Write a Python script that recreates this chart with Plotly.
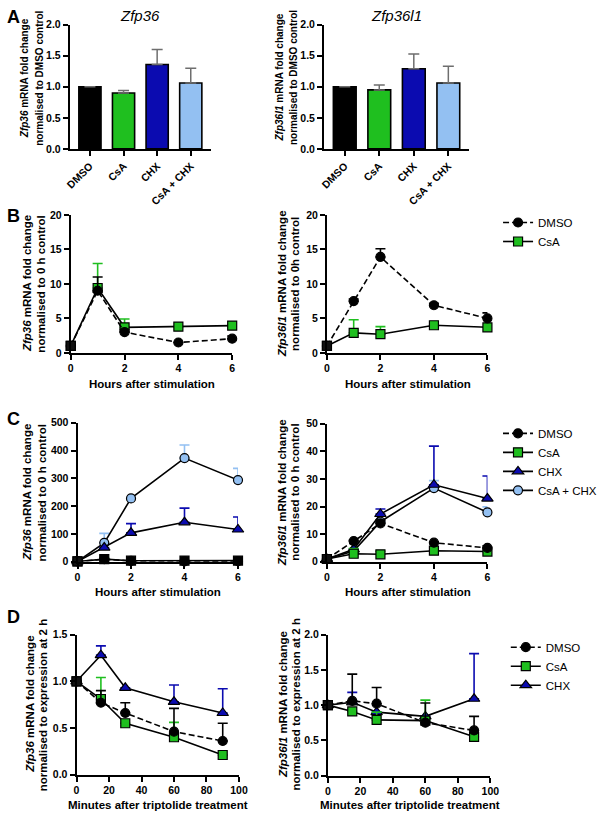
import plotly.graph_objects as go

# ---------------- data ----------------
bar_cats = ["DMSO", "CsA", "CHX", "CsA + CHX"]
a_zfp36 = [1.0, 0.90, 1.36, 1.06]
a_zfp36_err = [0.0, 0.04, 0.24, 0.24]
a_zfp36l1 = [1.0, 0.95, 1.29, 1.06]
a_zfp36l1_err = [0.0, 0.08, 0.24, 0.27]

hours = [0, 1, 2, 4, 6]
b36_dmso = [1.0, 9.0, 3.0, 1.5, 2.05]
b36_dmso_err = [None, 2.0, 0.4, None, 0.4]
b36_csa = [1.0, 9.4, 3.7, 3.8, 3.95]
b36_csa_err = [None, 3.55, 1.2, None, None]

bl1_dmso = [1.0, 7.5, 13.9, 6.9, 5.0]
bl1_dmso_err = [None, 0.3, 1.2, 0.3, 0.8]
bl1_csa = [1.0, 2.9, 2.7, 4.0, 3.7]
bl1_csa_err = [None, 1.9, 1.1, None, None]

c36_chx = [1.0, 51, 104, 142, 116]
c36_chx_err = [None, None, 33, 51, 45]
c36_csachx = [1.0, 68, 228, 373, 294]
c36_csachx_err = [None, 34, None, 47, 42]

cl1_chx = [1.0, 4.5, 17.3, 27.9, 22.9]
cl1_chx_err = [None, None, 1.8, 14.0, 8.2]
cl1_csachx = [1.0, 3.9, 14.5, 26.7, 17.9]
cl1_csachx_err = [None, None, None, 2.7, 2.0]

minutes = [0, 15, 30, 60, 90]
d36_dmso = [1.0, 0.77, 0.66, 0.46, 0.36]
d36_dmso_err = [None, 0.13, 0.11, 0.25, 0.19]
d36_csa = [1.0, 0.81, 0.55, 0.40, 0.21]
d36_csa_err = [None, 0.23, None, 0.16, None]
d36_chx = [1.0, 1.28, 0.93, 0.78, 0.66]
d36_chx_err = [None, 0.10, None, 0.18, 0.26]

dl1_dmso = [1.0, 1.06, 1.02, 0.75, 0.64]
dl1_dmso_err = [None, 0.38, 0.23, 0.28, 0.20]
dl1_csa = [1.0, 0.91, 0.79, 0.78, 0.55]
dl1_csa_err = [None, None, 0.11, 0.29, None]
dl1_chx = [1.0, 1.04, 0.90, 0.84, 1.09]
dl1_chx_err = [None, 0.14, None, None, 0.64]

# ---------------- style ----------------
W, H = 602, 819
FONT = "Liberation Sans, Arial, sans-serif"
BLACK = "#000000"
GREEN = "#1FBF1F"
BLUE = "#0B0BB0"
LBLUE = "#93C0F2"
GREY = "#6E6E6E"

def px_x(a, b):
    return [a / W, b / W]

def px_y(top, bottom):
    return [1 - bottom / H, 1 - top / H]

fig = go.Figure()

def axis_common():
    return dict(showline=True, linecolor="black", linewidth=2, ticks="outside",
                ticklen=5, tickwidth=2, tickcolor="black", showgrid=False,
                zeroline=False, fixedrange=True,
                tickfont=dict(family=FONT, size=10.5, color="black", weight="bold"))

panels = {
    1: ((67, 213), (19, 145)),
    2: ((330, 480), (19, 145)),
    3: ((68, 235), (212, 352)),
    4: ((333, 499), (212, 352)),
    5: ((75, 241), (423, 564)),
    6: ((333, 499), (424, 564)),
    7: ((74, 242), (638, 780)),
    8: ((334, 502), (638, 781)),
}
yranges = {1: (2, 0.5, ".1f"), 2: (2, 0.5, ".1f"), 3: (20, 5, "d"), 4: (20, 5, "d"),
           5: (500, 100, "d"), 6: (50, 10, "d"), 7: (1.5, 0.5, ".1f"), 8: (2, 0.5, ".1f")}

layout_axes = {}
for i, ((x0, x1), (y0, y1)) in panels.items():
    xs = "xaxis" if i == 1 else f"xaxis{i}"
    ys = "yaxis" if i == 1 else f"yaxis{i}"
    xa = axis_common()
    xa.update(domain=px_x(x0, x1), anchor="y" if i == 1 else f"y{i}")
    if i in (1, 2):
        xa.update(type="category", range=[-0.6, 3.6], tickangle=-45)
    elif i in (3, 4, 5, 6):
        xa.update(range=[0, 6], tickvals=[0, 2, 4, 6])
    else:
        xa.update(range=[0, 100], dtick=20)
    ya = axis_common()
    top, dt, fmt = yranges[i]
    ya.update(domain=px_y(y0, y1), anchor="x" if i == 1 else f"x{i}",
              range=[0, top], dtick=dt, tickformat=fmt)
    layout_axes[xs] = xa
    layout_axes[ys] = ya

# ---------------- panel A bars ----------------
for i, (vals, errs) in zip((1, 2), ((a_zfp36, a_zfp36_err), (a_zfp36l1, a_zfp36l1_err))):
    fig.add_trace(go.Bar(
        x=bar_cats, y=vals, width=0.66,
        marker=dict(color=[BLACK, GREEN, BLUE, LBLUE], line=dict(color="black", width=1.6)),
        error_y=dict(type="data", symmetric=False, array=errs, arrayminus=[0] * len(errs),
                     color=GREY, thickness=1.5, width=5.5),
        xaxis="x" if i == 1 else f"x{i}", yaxis="y" if i == 1 else f"y{i}",
        showlegend=False))

# ---------------- line panels ----------------
styles = {
    "DMSO": dict(color=BLACK, symbol="circle", dash="6px,3px", rank=1),
    "CsA": dict(color=GREEN, symbol="square", dash="solid", rank=2),
    "CHX": dict(color=BLUE, symbol="triangle-up", dash="solid", rank=3),
    "CsA + CHX": dict(color=LBLUE, symbol="circle", dash="solid", rank=4),
}

def add_series(panel, name, xvals, yvals, errs, legend=None, fill=None):
    st = styles[name]
    mcol = fill if fill else st["color"]
    size = 9 if st["symbol"] != "triangle-up" else 10
    fig.add_trace(go.Scatter(
        x=xvals, y=yvals, name=name, mode="lines+markers", cliponaxis=False,
        line=dict(color="black", width=1.6, dash=st["dash"]),
        marker=dict(symbol=st["symbol"], size=size, color=mcol,
                    line=dict(color="black", width=1.2)),
        error_y=dict(type="data", symmetric=False,
                     array=[e if e is not None else float("nan") for e in errs],
                     arrayminus=[0] * len(errs), color=st["color"], thickness=1.6, width=5),
        xaxis=f"x{panel}", yaxis=f"y{panel}",
        showlegend=legend is not None, legend=legend if legend else "legend",
        legendrank=st["rank"]))

def add_baseline(panel, xvals, yvals):
    fig.add_trace(go.Scatter(
        x=xvals[:1], y=yvals[:1], mode="markers", cliponaxis=False,
        marker=dict(symbol="square", size=9, color="#111111", line=dict(color="black", width=1.2)),
        xaxis=f"x{panel}", yaxis=f"y{panel}", showlegend=False, hoverinfo="skip"))

# B
add_series(3, "CsA", hours, b36_csa, b36_csa_err)
add_series(3, "DMSO", hours, b36_dmso, b36_dmso_err)
add_baseline(3, hours, b36_dmso)
add_series(4, "CsA", hours, bl1_csa, bl1_csa_err, legend="legend")
add_series(4, "DMSO", hours, bl1_dmso, bl1_dmso_err, legend="legend")
add_baseline(4, hours, bl1_dmso)
# C
add_series(5, "CsA + CHX", hours, c36_csachx, c36_csachx_err)
add_series(5, "CHX", hours, c36_chx, c36_chx_err)
add_series(5, "CsA", hours, b36_csa, b36_csa_err, fill=BLACK)
add_series(5, "DMSO", hours, b36_dmso, b36_dmso_err)
add_baseline(5, hours, b36_dmso)
add_series(6, "CsA + CHX", hours, cl1_csachx, cl1_csachx_err, legend="legend2")
add_series(6, "CHX", hours, cl1_chx, cl1_chx_err, legend="legend2")
add_series(6, "CsA", hours, bl1_csa, bl1_csa_err, legend="legend2")
add_series(6, "DMSO", hours, bl1_dmso, bl1_dmso_err, legend="legend2")
add_baseline(6, hours, bl1_dmso)
# D
add_series(7, "CHX", minutes, d36_chx, d36_chx_err)
add_series(7, "CsA", minutes, d36_csa, d36_csa_err)
add_series(7, "DMSO", minutes, d36_dmso, d36_dmso_err)
add_baseline(7, minutes, d36_dmso)
add_series(8, "CHX", minutes, dl1_chx, dl1_chx_err, legend="legend3")
add_series(8, "CsA", minutes, dl1_csa, dl1_csa_err, legend="legend3")
add_series(8, "DMSO", minutes, dl1_dmso, dl1_dmso_err, legend="legend3")
add_baseline(8, minutes, dl1_dmso)

# ---------------- annotations ----------------
ann = []

def text(x, y, s, size, bold=False, italic=False, angle=0):
    ann.append(dict(x=x / W, y=1 - y / H, xref="paper", yref="paper", text=s,
                    showarrow=False, xanchor="center", yanchor="middle", textangle=angle,
                    font=dict(family=FONT, size=size, color="black",
                              weight="bold" if bold else "normal",
                              style="italic" if italic else "normal")))

for letter, y in (("A", 11), ("B", 213), ("C", 419), ("D", 620)):
    text(9, y, letter, 18, bold=True)

text(140, 10, "Zfp36", 15, italic=True)
text(405, 10, "Zfp36l1", 15, italic=True)

YSH = -5
def ytitle(x1, x2, yc, l1, l2, size):
    text(x1 + YSH, yc, l1, size, bold=True, angle=-90)
    text(x2 + YSH, yc, l2, size, bold=True, angle=-90)

ytitle(26, 41, 73, "<i>Zfp36</i> mRNA fold change", "normalised to DMSO control", 10)
ytitle(289, 304, 73, "<i>Zfp36l1</i> mRNA fold change", "normalised to DMSO control", 10)
ytitle(28, 42, 282, "<i>Zfp36</i> mRNA fold change", "normalised to 0 h control", 11.5)
ytitle(291, 305, 282, "<i>Zfp36l1</i> mRNA fold change", "normalised to 0h control", 11.5)
ytitle(28, 43, 494, "<i>Zfp36</i> mRNA fold change", "normalised to 0 h control", 11.5)
ytitle(291, 305, 494, "<i>Zfp36l1</i> mRNA fold change", "normalised to 0 h control", 11.5)
ytitle(30, 44, 709, "<i>Zfp36</i> mRNA fold change", "normalised to expression at 2 h", 11.5)
ytitle(292, 306, 709, "<i>Zfp36l1</i> mRNA fold change", "normalised to expression at 2 h", 11.5)

text(152, 384, "Hours after stimulation", 11.5, bold=True)
text(417, 384, "Hours after stimulation", 11.5, bold=True)
text(158, 595, "Hours after stimulation", 11.5, bold=True)
text(417, 595, "Hours after stimulation", 11.5, bold=True)
text(158, 811, "Minutes after triptolide treatment", 11.5, bold=True)
text(419, 811, "Minutes after triptolide treatment", 11.5, bold=True)

def legend_at(xpx, ytop):
    return dict(x=xpx / W, y=1 - ytop / H, xanchor="left", yanchor="top",
                bgcolor="rgba(0,0,0,0)", borderwidth=0, traceorder="normal",
                font=dict(family=FONT, size=11.5, color="black"))

fig.update_layout(
    width=W, height=H, margin=dict(l=0, r=0, t=0, b=0),
    paper_bgcolor="white", plot_bgcolor="white",
    annotations=ann, bargap=0.3,
    legend=legend_at(510, 205),
    legend2=legend_at(510, 419),
    legend3=legend_at(518, 636),
    **layout_axes,
)

fig.write_html("out.html")
